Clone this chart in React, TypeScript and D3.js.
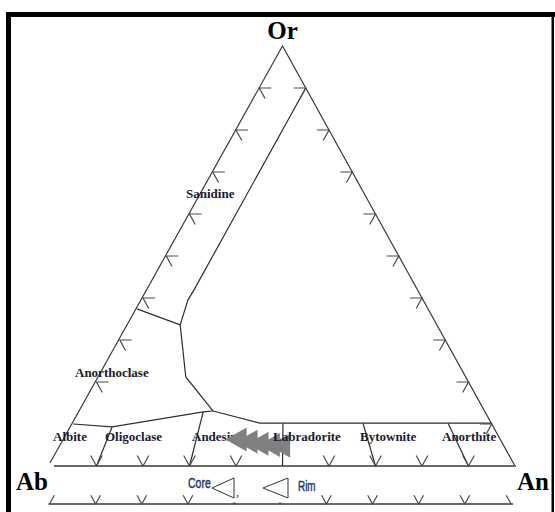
import React from "react";
import * as d3 from "d3";

// ---- data ----
const cornerLabels = ["Or", "Ab", "An"];
const fieldNames = ["Sanidine", "Anorthoclase", "Albite", "Oligoclase", "Andesine", "Labradorite", "Bytownite", "Anorthite"];
const tickFractions = [0.1, 0.2, 0.3, 0.4, 0.5, 0.6, 0.7, 0.8, 0.9];
const lowerTickFractions = [0, 0.1, 0.2, 0.3, 0.4, 0.5, 0.6, 0.7, 0.8, 0.9, 1];
const legendLabels = ["Core", "Rim"];

// field boundaries as [An, Or] fractions
const sanidineBoundary = [[0.1, 0.9], [0.1, 0.42], [0.099, 0.395], [0.112, 0.336], [0.186, 0.212], [0.285, 0.131]];
const sanidineAnorthoclase = [[0, 0.374], [0.112, 0.336]];
const plagioclaseTop = [[0.285, 0.131], [0.4, 0.102], [0.898, 0.102]];
const albiteLine = [[0, 0.1], [0.087, 0.093], [0.265, 0.129], [0.285, 0.131]];
const oligoclaseLine = [[0.087, 0.093], [0.1, 0]];
const andesineLine = [[0.265, 0.129], [0.3, 0]];
const labradoriteLine = [[0.45, 0.102], [0.5, 0]];
const bytowniteLine = [[0.622, 0.102], [0.7, 0]];
const anorthiteLine = [[0.805, 0.102], [0.9, 0]];

// feldspar analyses
const coreAn = [0.372, 0.398, 0.424];
const coreOr = [0.063, 0.058, 0.053];
const rimAn = [0.45, 0.473];
const rimOr = [0.05, 0.048];

export default function App() {
  const W = 555, H = 512;
  const sx = d3.scaleLinear().domain([0, 1]).range([50, 515]);
  const sy = d3.scaleLinear().domain([0, 1]).range([466, 46]);
  const lx = d3.scaleLinear().domain([0, 1]).range([49.5, 511]);
  const lowerY = 504;
  const proj = (an: number, or: number): [number, number] => [sx(an + or / 2), sy(or)];
  const line = d3.line<number[]>().x((d) => proj(d[0], d[1])[0]).y((d) => proj(d[0], d[1])[1]);

  const ux = 0.484, uy = 0.875;
  const L = 12;
  const tickPaths: string[] = [];
  // left side (Ab-Or)
  tickFractions.filter((t) => t >= 0.2).forEach((t) => {
    const [x, y] = proj(0, t);
    tickPaths.push(`M${x + L},${y}L${x},${y}L${x + ux * L},${y + uy * L}`);
  });
  // right side (Or-An)
  tickFractions.forEach((t) => {
    const [x, y] = proj(1 - t, t);
    tickPaths.push(`M${x - L},${y}L${x},${y}L${x - ux * L},${y + uy * L}`);
  });
  // base (Ab-An)
  tickFractions.filter((t) => Math.abs(t - 0.5) > 0.01).forEach((t) => {
    const [x, y] = proj(t, 0);
    tickPaths.push(`M${x - ux * L},${y - uy * L}L${x},${y}L${x + ux * L},${y - uy * L}`);
  });
  // lower axis
  const L2 = 10;
  const lowerPaths = lowerTickFractions.map((t) => {
    const x = lx(t), y = lowerY;
    const left = t > 0 ? `M${x - ux * L2},${y - uy * L2}L${x},${y}` : `M${x},${y}`;
    const right = t < 1 ? `L${x + ux * L2},${y - uy * L2}` : "";
    return left + right;
  });

  const marker = (cx: number, cy: number) =>
    `M${cx - 12},${cy}L${cx + 9},${cy - 12}L${cx + 9},${cy + 12}Z`;
  const pts = [
    ...coreAn.map((a, i) => proj(a, coreOr[i])),
    ...rimAn.map((a, i) => proj(a, rimOr[i])),
  ];

  const A = proj(0, 0), B = proj(1, 0), C = proj(0, 1);
  const fieldFont = { fontFamily: "'Liberation Serif', 'Times New Roman', serif", fontWeight: 700, fontSize: 13, fill: "#1a1a2e" } as const;
  const cornerFont = { fontFamily: "'Liberation Serif', 'Times New Roman', serif", fontWeight: 700, fontSize: 25, fill: "#000" } as const;
  const legendFont = { fontFamily: "'Liberation Sans', Arial, sans-serif", fontSize: 15, fill: "#1f3570", stroke: "#1f3570", strokeWidth: 0.45 } as const;

  // label anchors in pixel layout (left x, baseline)
  const fieldPos: [number, number][] = [
    [186, 198], [75, 377], [53, 441], [105, 441], [192, 441], [273, 441], [360, 441], [442, 441],
  ];

  const boundaries = [sanidineBoundary, sanidineAnorthoclase, plagioclaseTop, albiteLine, oligoclaseLine, andesineLine, labradoriteLine, bytowniteLine, anorthiteLine];

  return (
    <svg width={W} height={H} style={{ position: "absolute", left: 0, top: 0, background: "#fff" }}>
      <rect x={0} y={0} width={W} height={H} fill="#fff" />
      {/* frame */}
      <rect x={6} y={12} width={549} height={5} fill="#000" />
      <rect x={6} y={12} width={5} height={500} fill="#000" />
      <rect x={551.5} y={12} width={2.5} height={500} fill="#000" />

      {/* triangle sides */}
      <path d={`M${A[0]},${A[1] - 3}L${C[0]},${C[1]}L${B[0]},${B[1]}`} fill="none" stroke="#3a3a3a" strokeWidth={1.2} />
      <line x1={A[0] + 4} y1={A[1]} x2={B[0] + 1} y2={B[1]} stroke="#6a6a6a" strokeWidth={2} />

      {/* field boundaries */}
      {boundaries.map((b, i) => (
        <path key={i} d={line(b) || ""} fill="none" stroke="#2e2e2e" strokeWidth={1.2} />
      ))}

      {/* ticks */}
      {tickPaths.map((d, i) => (
        <path key={i} d={d} fill="none" stroke="#4a4a4a" strokeWidth={1.2} />
      ))}

      {/* lower axis */}
      <line x1={lx(0) - 1} y1={lowerY} x2={lx(1) + 2} y2={lowerY} stroke="#6a6a6a" strokeWidth={2} />
      {lowerPaths.map((d, i) => (
        <path key={i} d={d} fill="none" stroke="#4a4a4a" strokeWidth={1.2} />
      ))}

      {/* field labels (Labradorite drawn above markers) */}
      {fieldNames.map((n, i) =>
        n === "Labradorite" ? null : (
          <text key={n} x={fieldPos[i][0]} y={fieldPos[i][1]} style={fieldFont}>{n}</text>
        )
      )}

      {/* data markers */}
      {pts.map(([x, y], i) => (
        <path key={i} d={marker(x, y)} fill="#808080" />
      ))}
      <text x={fieldPos[5][0]} y={fieldPos[5][1]} style={fieldFont}>{fieldNames[5]}</text>

      {/* corner labels */}
      <text x={C[0]} y={39} textAnchor="middle" style={cornerFont}>{cornerLabels[0]}</text>
      <text x={16} y={490} style={cornerFont}>{cornerLabels[1]}</text>
      <text x={517} y={490} style={cornerFont}>{cornerLabels[2]}</text>

      {/* legend */}
      <rect x={193} y={469} width={123} height={33.5} fill="#fff" />
      <text x={188} y={488} transform="translate(188,0) scale(0.7,1) translate(-188,0)" style={legendFont}>{legendLabels[0]}</text>
      <path d="M212,488L234,478L234,498Z" fill="none" stroke="#333" strokeWidth={1} />
      <text x={236} y={496} style={{ fontFamily: "'Liberation Serif', serif", fontSize: 12, fill: "#333" }}>,</text>
      <path d="M263,488L288,478L288,498Z" fill="none" stroke="#333" strokeWidth={1} />
      <text x={298} y={491} transform="translate(298,0) scale(0.66,1) translate(-298,0)" style={legendFont}>{legendLabels[1]}</text>
    </svg>
  );
}
